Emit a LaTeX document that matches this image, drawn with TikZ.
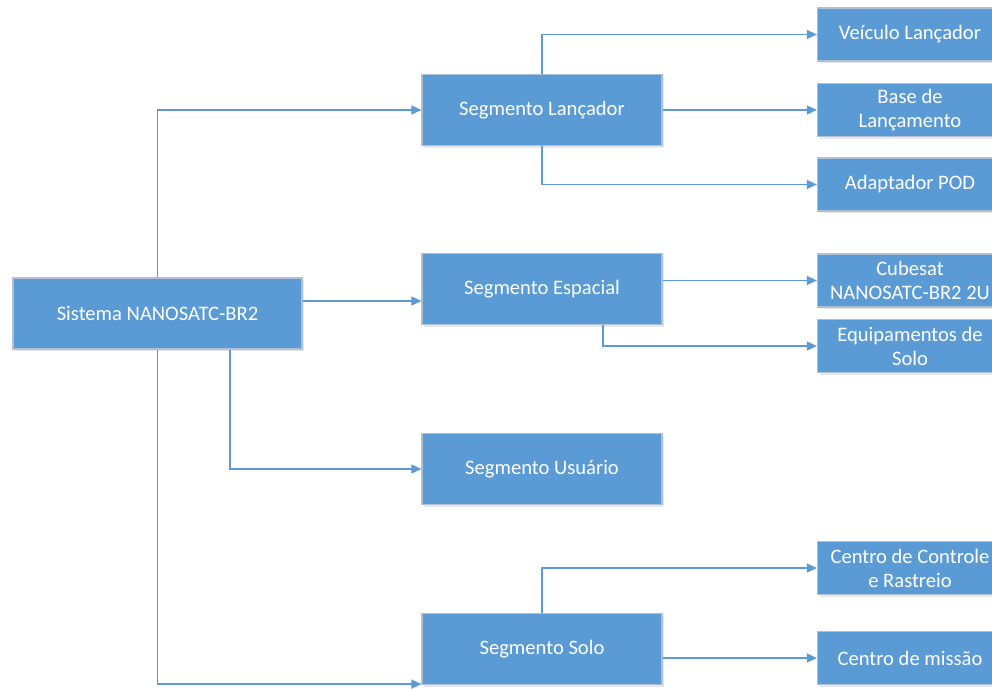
\documentclass[tikz,border=0pt]{standalone}
\usepackage{fontspec}
\setmainfont{Carlito}
\usetikzlibrary{arrows.meta,shadows}
\definecolor{boxblue}{HTML}{5B9BD5}
\definecolor{boxedge}{HTML}{AFC0D6}
\definecolor{linkblue}{HTML}{5B9BD5}
\tikzset{
  blk/.style={rectangle, fill=boxblue, draw=boxedge, line width=1.2pt, text=white,
    font=\fontsize{20.6}{24}\selectfont, align=center, inner sep=0pt,
    drop shadow={opacity=0.18, shadow xshift=2pt, shadow yshift=-2pt}},
  segbox/.style={blk, minimum width=240pt, minimum height=71pt},
  leafbox/.style={blk, minimum width=185pt, minimum height=53pt},
  conn/.style={draw=linkblue, line width=1.4pt, -{Triangle[length=10pt,width=9pt]}}
}
\begin{document}
\begin{tikzpicture}[x=1pt,y=-1pt]
\useasboundingbox (0,0) rectangle (992,688);
% main
\node[blk, minimum width=289pt, minimum height=71pt] (main) at (157.5,313.5) {Sistema NANOSATC-BR2};
% segments
\node[segbox] (lan) at (542,110) {Segmento Lançador};
\node[segbox] (esp) at (542,289) {Segmento Espacial};
\node[segbox] (usu) at (542,469) {Segmento Usuário};
\node[segbox] (solo) at (542,649) {Segmento Solo};
% leaves
\node[leafbox] (vei) at (910,34.5) {Veículo Lançador};
\node[leafbox] (base) at (910,110) {Base de\\Lançamento};
\node[leafbox] (adap) at (910,184.5) {Adaptador POD};
\node[leafbox] (cube) at (910,280.5) {Cubesat\\NANOSATC-BR2 2U};
\node[leafbox] (equi) at (910,346) {Equipamentos de\\Solo};
\node[leafbox] (ccr) at (910,568) {Centro de Controle\\e Rastreio};
\node[leafbox] (cmis) at (910,658) {Centro de missão};
% connectors from main
\coordinate (ya) at (0,301);
\draw[conn] (main.north) |- (lan.west);
\draw[conn] (main.east |- ya) -- (esp.west |- ya);
\draw[conn] ([xshift=72.5pt]main.south) |- (usu.west);
\draw[conn] (main.south) |- ([yshift=1pt]solo.south west);
% Lançador
\draw[conn] (lan.north) |- (vei.west);
\draw[conn] (lan.east) -- (base.west);
\draw[conn] (lan.south) |- (adap.west);
% Espacial
\draw[conn] (esp.east |- cube.west) -- (cube.west);
\draw[conn] ([xshift=61pt]esp.south) |- (equi.west);
% Solo
\draw[conn] (solo.north) |- (ccr.west);
\draw[conn] (solo.east |- cmis.west) -- (cmis.west);
\end{tikzpicture}
\end{document}
